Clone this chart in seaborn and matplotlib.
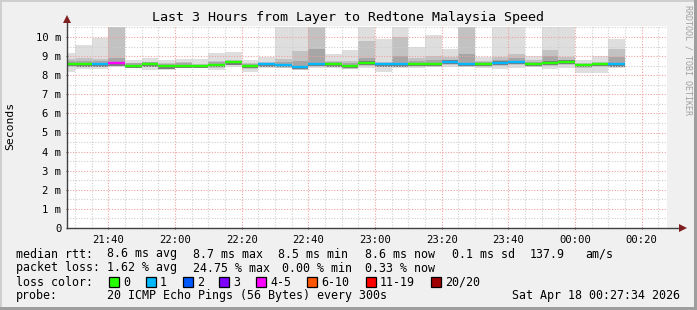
import matplotlib
matplotlib.use("Agg")
import matplotlib.pyplot as plt
from matplotlib.patches import Rectangle
import numpy as np
import pandas as pd
import seaborn as sns

# ---------------- data ----------------
bar_starts = ["21:25", "21:30", "21:35", "21:40", "21:45", "21:50", "21:55",
              "22:00", "22:05", "22:10", "22:15", "22:20", "22:25", "22:30",
              "22:35", "22:40", "22:45", "22:50", "22:55", "23:00", "23:05",
              "23:10", "23:15", "23:20", "23:25", "23:30", "23:35", "23:40",
              "23:45", "23:50", "23:55", "00:00", "00:05", "00:10"]
median_ms = [8.58, 8.57, 8.57, 8.62, 8.50, 8.57, 8.47, 8.50, 8.48, 8.55, 8.68,
             8.48, 8.57, 8.53, 8.43, 8.59, 8.57, 8.48, 8.66, 8.57, 8.57, 8.60,
             8.60, 8.71, 8.60, 8.60, 8.66, 8.69, 8.60, 8.66, 8.71, 8.53, 8.60,
             8.57]
loss_cat = ["0", "0", "1", "4-5", "0", "0", "0", "0", "0", "0", "0", "0", "1",
            "1", "1", "1", "0", "0", "0", "1", "1", "0", "0", "1", "1", "0",
            "1", "1", "0", "0", "0", "0", "0", "1"]
min_ms = [8.18, 8.31, 8.31, 8.45, 8.42, 8.27, 8.27, 8.38, 8.38, 8.27, 8.45,
          8.18, 8.38, 8.38, 8.27, 8.38, 8.38, 8.32, 8.38, 8.18, 8.38, 8.38,
          8.45, 8.45, 8.42, 8.38, 8.32, 8.38, 8.45, 8.32, 8.38, 8.13, 8.13,
          8.38]
max_ms = [9.15, 9.58, 9.96, 10.50, 8.80, 8.92, 8.80, 8.85, 8.85, 9.15, 9.20,
          8.80, 8.97, 10.50, 10.50, 10.50, 9.09, 9.32, 10.50, 9.90, 10.50,
          9.49, 10.10, 9.35, 10.50, 8.97, 10.50, 10.50, 9.03, 10.50, 10.50,
          8.80, 9.03, 9.90]
upper_mid_ms = [8.85, 8.90, 8.85, 10.50, 8.65, 8.70, 8.65, 8.68, 8.60, 8.75,
                8.80, 8.62, 8.70, 8.85, 9.27, 10.50, 8.75, 8.75, 9.79, 8.70,
                10.00, 8.90, 9.00, 8.95, 10.50, 8.75, 8.95, 9.10, 8.80, 9.30,
                8.95, 8.65, 8.70, 9.35]
upper_core_ms = [8.73, 8.72, 8.72, 8.90, 8.62, 8.68, 8.60, 8.62, 8.56, 8.68,
                 8.75, 8.58, 8.65, 8.70, 8.75, 9.37, 8.68, 8.65, 8.90, 8.65,
                 9.00, 8.75, 8.80, 8.80, 9.10, 8.70, 8.80, 8.90, 8.70, 9.00,
                 8.80, 8.60, 8.65, 8.95]

loss_labels = ["0", "1", "2", "3", "4-5", "6-10", "11-19", "20/20"]
loss_colors = ["#26ff00", "#00b8ff", "#0059ff", "#7e00ff", "#ff00ff",
               "#ff5500", "#ff0000", "#a10000"]

y_ticks = [0, 1, 2, 3, 4, 5, 6, 7, 8, 9, 10]
y_tick_labels = ["0", "1 m", "2 m", "3 m", "4 m", "5 m", "6 m", "7 m", "8 m",
                 "9 m", "10 m"]
x_tick_labels = ["21:40", "22:00", "22:20", "22:40", "23:00", "23:20",
                 "23:40", "00:00", "00:20"]

title = "Last 3 Hours from Layer to Redtone Malaysia Speed"
stats_rtt = ["8.6 ms avg", "8.7 ms max", "8.5 ms min", "8.6 ms now",
             "0.1 ms sd", "137.9", "am/s"]
stats_loss = ["1.62 % avg", "24.75 % max", "0.00 % min", "0.33 % now"]
probe_text = "20 ICMP Echo Pings (56 Bytes) every 300s"
date_text = "Sat Apr 18 00:27:34 2026"


def to_min(s):
    h, m = s.split(":")
    v = int(h) * 60 + int(m)
    if int(h) < 12:
        v += 24 * 60
    return v


x_start = np.array([to_min(s) for s in bar_starts], dtype=float)
step = 5.0
med = np.array(median_ms)
lo = np.array(min_ms)
hi = np.array(max_ms)
hmid = np.array(upper_mid_ms)
hcore = np.array(upper_core_ms)

# ---------------- figure ----------------
W, H = 697, 310
MONO = "DejaVu Sans Mono"
plt.rcParams["font.family"] = MONO
fig = plt.figure(figsize=(W / 100, H / 100), dpi=100)
fig.patch.set_facecolor("#f0f0f0")

px_left, px_right, px_top, px_bot = 67, 667, 26, 228
ax = fig.add_axes([px_left / W, 1 - px_bot / H, (px_right - px_left) / W,
                   (px_bot - px_top) / H])
ax.set_facecolor("white")
xmin = to_min("21:27") + 34 / 60
xmax = xmin + 180
ymax = (px_bot - px_top) / 19.1
ax.set_xlim(xmin, xmax)
ax.set_ylim(0, ymax)

# smoke (outer -> inner, lighter -> darker)
ax.bar(x_start, hi - lo, bottom=lo, width=step, align="edge",
       color="#dedede", linewidth=0, zorder=1)
b_mid = np.maximum(lo, med - 0.16)
ax.bar(x_start, hmid - b_mid, bottom=b_mid, width=step, align="edge",
       color="#c2c2c2", linewidth=0, zorder=2)
b_core = np.maximum(lo, med - 0.1)
ax.bar(x_start, hcore - b_core, bottom=b_core, width=step, align="edge",
       color="#a6a6a6", linewidth=0, zorder=3)
ax.bar(x_start, 0.18, bottom=med - 0.12, width=step, align="edge",
       color="#7a7a7a", linewidth=0, zorder=3)

# grid (drawn over smoke, like rrdtool)
for v in np.arange(0.5, ymax, 0.5):
    if abs(v - round(v)) > 1e-6:
        ax.axhline(v, color="#cfcfcf", lw=0.8, ls=(0, (1, 1.5)), zorder=4)
for v in np.arange(1, ymax, 1.0):
    ax.axhline(v, color="#f2a0a0", lw=0.8, ls=(0, (1, 1.5)), zorder=4)
major_x = [to_min(s) for s in x_tick_labels]
t = 1290.0
while t < xmax:
    if t > xmin and t not in major_x:
        ax.axvline(t, color="#cfcfcf", lw=0.8, ls=(0, (1, 1.5)), zorder=4)
    t += 5
for v in major_x:
    ax.axvline(v, color="#f2a0a0", lw=0.8, ls=(0, (1, 1.5)), zorder=4)

# median lines through seaborn
rows = []
for i in range(len(bar_starts)):
    for xx in (x_start[i], x_start[i] + step):
        rows.append({"x": xx, "y": med[i], "bar": i, "loss": loss_cat[i]})
df = pd.DataFrame(rows)
pal = dict(zip(loss_labels, loss_colors))
sns.lineplot(data=df, x="x", y="y", units="bar", hue="loss", palette=pal,
             estimator=None, linewidth=1.7, legend=False, ax=ax, zorder=6,
             solid_capstyle="butt")

# axes styling
for sp in ax.spines.values():
    sp.set_visible(False)
ax.set_xlabel("")
ax.set_ylabel("")
ax.set_yticks(y_ticks)
ax.set_yticklabels(y_tick_labels, fontsize=7.6)
ax.set_xticks(major_x)
ax.set_xticklabels(x_tick_labels, fontsize=7.6)
ax.tick_params(axis="both", length=2, width=0.8, color="#505050", pad=3,
               direction="inout")
ax.tick_params(axis="x", pad=4)

# axis lines with arrows
ax.plot([xmin, xmin], [0, ymax + 0.3], color="#404040", lw=1.0,
        clip_on=False, zorder=7)
ax.plot([xmin, xmax + 4.5], [0, 0], color="#404040", lw=1.0,
        clip_on=False, zorder=7)
ax.plot([xmin], [ymax + 0.38], marker="^", ms=6, color="#7f1f1f",
        clip_on=False, zorder=8, markeredgewidth=0)
ax.plot([xmax + 4.8], [0], marker=">", ms=6, color="#7f1f1f",
        clip_on=False, zorder=8, markeredgewidth=0)

# texts
fig.text(348 / W, 1 - 18 / H, title, ha="center", va="center", fontsize=9.6,
         family=MONO)
fig.text(10 / W, 1 - 126 / H, "Seconds", rotation=90, ha="center",
         va="center", fontsize=8.2, family=MONO)
fig.text(688 / W, 1 - 5 / H, "RRDTOOL / TOBI OETIKER", rotation=270,
         ha="center", va="top", fontsize=6, color="#a0a0a0", family=MONO)

LS = 8.4
def ftext(x, y, s, **kw):
    fig.text(x / W, 1 - y / H, s, ha="left", va="center", fontsize=LS,
             family=MONO, **kw)

ftext(16, 254, "median rtt:")
for xp, s in zip([107.3, 192.7, 278.3, 365, 451.7, 530, 585], stats_rtt):
    ftext(xp, 254, s)
ftext(16, 268, "packet loss:")
for xp, s in zip([107.3, 192.7, 282, 365], stats_loss):
    ftext(xp, 268, s)
ftext(16, 282, "loss color:")
box_x = [109, 145.7, 182.7, 219.3, 256, 307.3, 365.7, 430.7]
for bx, lab, col in zip(box_x, loss_labels, loss_colors):
    fig.patches.append(Rectangle((bx / W, 1 - 287 / H), 10 / W, 10 / H,
                                 transform=fig.transFigure, facecolor=col,
                                 edgecolor="black", linewidth=0.9))
    ftext(bx + 14, 282, lab)
ftext(16, 296, "probe:")
ftext(107.3, 296, probe_text)
fig.text(680 / W, 1 - 296 / H, date_text, ha="right", va="center",
         fontsize=LS, family=MONO)

# 3D border
fig.patches.append(Rectangle((0, 0), 2 / W, 1, transform=fig.transFigure,
                             facecolor="#cfcfcf", linewidth=0))
fig.patches.append(Rectangle((0, 1 - 2 / H), 1, 2 / H, transform=fig.transFigure,
                             facecolor="#cfcfcf", linewidth=0))
fig.patches.append(Rectangle((1 - 3 / W, 0), 3 / W, 1, transform=fig.transFigure,
                             facecolor="#9e9e9e", linewidth=0))
fig.patches.append(Rectangle((0, 0), 1, 3 / H, transform=fig.transFigure,
                             facecolor="#9e9e9e", linewidth=0))

fig.savefig("out.png", dpi=100, facecolor=fig.get_facecolor())
